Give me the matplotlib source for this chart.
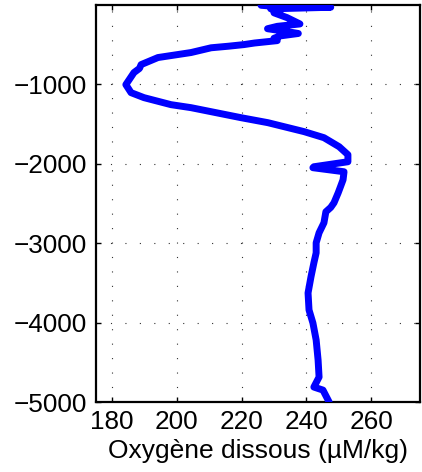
import matplotlib
matplotlib.use("Agg")
import matplotlib.pyplot as plt
import numpy as np

# Dissolved oxygen profile (value, depth)
oxygen = [226, 229, 247.5, 240, 229, 232, 230, 232, 234, 236, 238, 231, 228, 233,
          237.5, 232, 230, 231, 224, 220.7, 216, 210.6, 204.4, 194.2, 189.0, 188.5,
          186.8, 184.3, 185.9, 189.9, 198.2, 204.4, 219.8, 228.1, 239.3, 245.4,
          250.1, 252.8, 252.8, 242.3, 242.0, 251.6, 251.3, 250.5, 249.8, 248.5,
          247.5, 246.0, 245.4, 243.9, 243.0, 243.0, 242.3, 241.4, 240.5, 240.8,
          242.0, 243.0, 243.6, 243.9, 242.3, 245.1, 247.0]
depth = [-5, -15, -30, -38, -50, -70, -100, -130, -160, -200, -240, -270, -300, -330,
         -360, -390, -420, -450, -480, -500, -520, -540, -600, -663, -752, -800,
         -852, -1004, -1105, -1168, -1256, -1294, -1420, -1483, -1596, -1672,
         -1786, -1886, -1975, -2038, -2050, -2101, -2202, -2290, -2366, -2492,
         -2550, -2605, -2744, -2870, -2996, -3122, -3248, -3425, -3627, -3841,
         -4005, -4219, -4472, -4686, -4812, -4850, -5000]

xticks = [180, 200, 220, 240, 260]
yticks = [-5000, -4000, -3000, -2000, -1000]
xlabel = "Oxygène dissous (µM/kg)"

plt.rcParams['font.family'] = ['Liberation Sans', 'DejaVu Sans']

fig = plt.figure(figsize=(4.22, 4.72), dpi=100)
ax = fig.add_axes([0.2268, 0.1483, 0.7682, 0.8405])

ax.plot(oxygen, depth, color='#0000ff', lw=5.0, solid_joinstyle='round',
        solid_capstyle='round', zorder=3)

ax.set_xlim(175, 275)
ax.set_ylim(-5000, -5)
ax.set_xticks(xticks)
ax.set_yticks(yticks)
ax.set_yticklabels([f"\u2212{abs(v)}" for v in yticks])
ax.grid(True, color='#333333', linestyle=(0, (1, 12)), lw=0.8)
ax.tick_params(direction='in', length=3.5, width=1, top=True, right=True,
               labelsize=18.8, pad=6)
for s in ax.spines.values():
    s.set_linewidth(1.6)
ax.set_xlabel(xlabel, fontsize=19, labelpad=3)

fig.savefig("out.png", dpi=100)
